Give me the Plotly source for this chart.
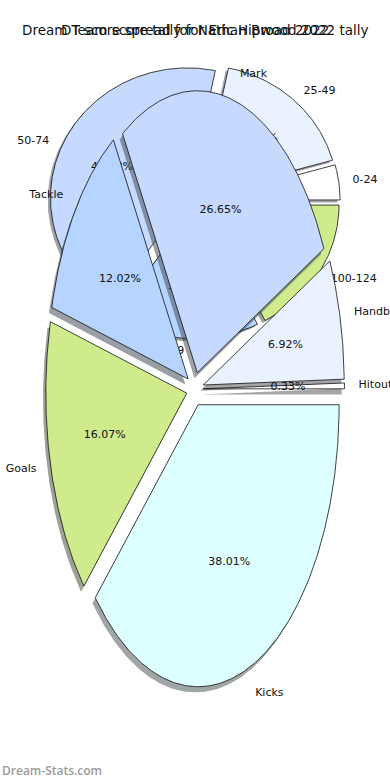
import math
import numpy as np
import plotly.graph_objects as go

# ---------------- data ----------------
# Pie drawn on top: Dream Team score source tally (percent of total)
src_labels = ["Hitout", "Handball", "Mark", "Tackle", "Goals", "Kicks"]
src_values = [0.33, 6.92, 26.65, 12.02, 16.07, 38.01]

# Pie drawn underneath: DT score spread (games per score band)
spread_labels = ["0-24", "25-49", "50-74", "75-99", "100-124"]
spread_counts = [1, 4, 10, 4, 4]

slice_colors = ["#FFFFFF", "#EAF1FF", "#C6D9FF", "#B5D4FF", "#CFEB8B", "#DDFFFF"]

title_a = "Dream Team score tally for Eric Hipwood 2022 tally"
title_b = "DT score spread for Nathan Broad 2022"
watermark = "Dream-Stats.com"

# ---------------- style / layout constants ----------------
W, H = 390, 780
EXPLODE = 0.06
SHADOW = 0.02
LABEL_D = 1.1
PCT_D = 0.6
FONT = "DejaVu Sans"


def hex_rgb(h):
    h = h.lstrip("#")
    return tuple(int(h[i:i + 2], 16) for i in (0, 2, 4))


def pie_traces(values, labels, xa, ya):
    total = float(sum(values))
    shadows, wedges, texts = [], [], []
    start = 0.0
    for v, lab, col in zip(values, labels, slice_colors):
        span = 360.0 * v / total
        t0, t1 = start, start + span
        mid = math.radians((t0 + t1) / 2)
        cx, cy = EXPLODE * math.cos(mid), EXPLODE * math.sin(mid)
        n = max(4, int(span * 2))
        ts = np.radians(np.linspace(t0, t1, n))
        xs = np.concatenate([[cx], cx + np.cos(ts), [cx]])
        ys = np.concatenate([[cy], cy + np.sin(ts), [cy]])
        r, g, b = hex_rgb(col)
        shadows.append(go.Scatter(
            x=xs - SHADOW, y=ys - SHADOW, xaxis=xa, yaxis=ya, mode="lines",
            fill="toself", fillcolor=f"rgba({0.3*r:.0f},{0.3*g:.0f},{0.3*b:.0f},0.5)",
            line=dict(width=0), hoverinfo="skip", showlegend=False))
        wedges.append(go.Scatter(
            x=xs, y=ys, xaxis=xa, yaxis=ya, mode="lines", fill="toself",
            fillcolor=col, line=dict(color="#111111", width=0.8),
            hoverinfo="skip", showlegend=False))
        lx = cx + LABEL_D * math.cos(mid)
        ly = cy + LABEL_D * math.sin(mid)
        texts.append(go.Scatter(
            x=[lx], y=[ly], xaxis=xa, yaxis=ya, mode="text", text=[lab],
            textposition="middle right" if lx > 0 else "middle left",
            textfont=dict(family=FONT, size=11, color="#111111"),
            hoverinfo="skip", showlegend=False, cliponaxis=False))
        px = cx + PCT_D * math.cos(mid)
        py = cy + PCT_D * math.sin(mid)
        texts.append(go.Scatter(
            x=[px], y=[py], xaxis=xa, yaxis=ya, mode="text",
            text=[f"{100.0 * v / total:.2f}%"], textposition="middle center",
            textfont=dict(family=FONT, size=11, color="#111111"),
            hoverinfo="skip", showlegend=False, cliponaxis=False))
        start = t1
    return shadows + wedges + texts


fig = go.Figure()
# spread pie (underneath) on base axes
for t in pie_traces(spread_counts, spread_labels, "x", "y"):
    fig.add_trace(t)
# tally pie (on top) on overlay axes
for t in pie_traces(src_values, src_labels, "x2", "y2"):
    fig.add_trace(t)

# axis geometry: pixel centre and radii of each (elliptical) pie
p2_cx, p2_cy, p2_rx, p2_ry = 195, 201, 137, 130
p1_cx, p1_cy, p1_rx, p1_ry = 195, 389, 141, 282

ax_common = dict(visible=False, fixedrange=True, showgrid=False, zeroline=False)
fig.update_layout(
    width=W, height=H, margin=dict(l=0, r=0, t=0, b=0),
    paper_bgcolor="white", plot_bgcolor="white",
    xaxis=dict(domain=[0, 1], range=[-p2_cx / p2_rx, (W - p2_cx) / p2_rx], **ax_common),
    yaxis=dict(domain=[0, 1], range=[-(H - p2_cy) / p2_ry, p2_cy / p2_ry], **ax_common),
    xaxis2=dict(overlaying="x", range=[-p1_cx / p1_rx, (W - p1_cx) / p1_rx], **ax_common),
    yaxis2=dict(overlaying="y", range=[-(H - p1_cy) / p1_ry, p1_cy / p1_ry], **ax_common),
    showlegend=False,
    annotations=[
        dict(text=title_a, xref="paper", yref="paper", x=0.5, y=1 - 30 / H,
             xanchor="center", yanchor="middle", showarrow=False,
             font=dict(family=FONT, size=13.5, color="#111111")),
        dict(text=title_b, xref="paper", yref="paper", x=0.5, y=1 - 30 / H,
             xanchor="center", yanchor="middle", showarrow=False,
             font=dict(family=FONT, size=13.5, color="#111111")),
        dict(text=watermark, xref="paper", yref="paper", x=0, y=1 - 770 / H,
             xanchor="left", yanchor="middle", showarrow=False,
             font=dict(family="Open Sans", size=12, color="#9a9a9a", weight=600)),
    ],
)

fig.write_html("out.html", config={"displayModeBar": False},
               post_script="document.body.style.margin='0px';document.body.style.overflow='hidden';")
